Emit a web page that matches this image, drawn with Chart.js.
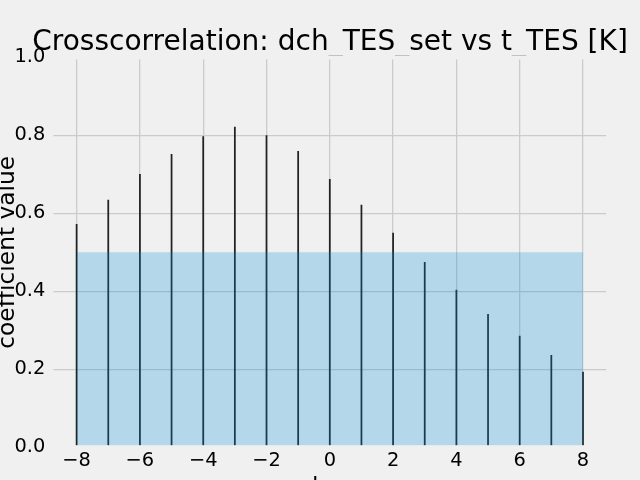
<!DOCTYPE html>
<html>
<head>
<meta charset="utf-8">
<script src="https://cdn.jsdelivr.net/npm/chart.js@4.4.1/dist/chart.umd.min.js"></script>
<style>
  html, body { margin: 0; padding: 0; background: #f0f0f0; }
  #wrap { width: 640px; height: 480px; }
</style>
</head>
<body>
<div id="wrap"><canvas id="c" width="640" height="480"></canvas></div>
<script>
// ---- data ----
const lags = [-8, -7, -6, -5, -4, -3, -2, -1, 0, 1, 2, 3, 4, 5, 6, 7, 8];
const coefficients = [0.572, 0.634, 0.700, 0.751, 0.797, 0.821, 0.799, 0.759, 0.687,
                      0.621, 0.549, 0.474, 0.403, 0.341, 0.285, 0.236, 0.193];
const threshold = 0.5;
const yTicks = [0.0, 0.2, 0.4, 0.6, 0.8, 1.0];
const xTicks = [-8, -6, -4, -2, 0, 2, 4, 6, 8];
const titleText = 'Crosscorrelation: dch_TES_set vs t_TES [K]';
const xLabel = 'lag';
const yLabel = 'coefficient value';

const stemPoints = lags.map((l, i) => ({ x: l, y: coefficients[i] }));
const shadePoints = [
  { x: lags[0], y: threshold },
  { x: lags[lags.length - 1], y: threshold }
];

const FONT = 'DejaVu Sans';

// no ligatures (like matplotlib), keep kerning
const textPlugin = {
  id: 'noLigatures',
  beforeDraw(chart) {
    try { chart.ctx.letterSpacing = '0.01px'; } catch (e) {}
  }
};

// spines drawn in background colour (fivethirtyeight style)
const spinePlugin = {
  id: 'spines',
  afterDatasetsDraw(chart) {
    const { ctx, chartArea: a } = chart;
    ctx.save();
    ctx.strokeStyle = '#f0f0f0';
    ctx.lineWidth = 4.2;
    ctx.strokeRect(a.left, a.top, a.right - a.left, a.bottom - a.top);
    ctx.restore();
  }
};

new Chart(document.getElementById('c'), {
  type: 'bar',
  data: {
    datasets: [
      {
        type: 'line',
        data: shadePoints,
        fill: 'origin',
        backgroundColor: 'rgba(0,143,213,0.25)',
        borderWidth: 0,
        pointRadius: 0,
        tension: 0
      },
      {
        type: 'bar',
        data: stemPoints,
        backgroundColor: '#222222',
        barThickness: 1.1,
        borderWidth: 0
      }
    ]
  },
  options: {
    responsive: false,
    animation: false,
    devicePixelRatio: 1,
    events: [],
    layout: { padding: { left: 0, right: -20, top: 0, bottom: 0 } },
    plugins: {
      legend: { display: false },
      tooltip: { enabled: false },
      title: {
        display: true,
        text: titleText,
        color: '#000',
        font: { family: FONT, size: 28, weight: 'normal', lineHeight: 1.2 },
        padding: { top: 26, bottom: -2.3 }
      }
    },
    scales: {
      x: {
        type: 'linear',
        min: -8.8,
        max: 8.8,
        offset: false,
        afterBuildTicks(scale) { scale.ticks = xTicks.map(v => ({ value: v })); },
        afterFit(scale) { scale.height = 32.7; },
        ticks: {
          includeBounds: false,
          color: '#000',
          padding: 2.5,
          maxRotation: 0,
          font: { family: FONT, size: 19.4 },
          callback: v => String(v).replace('-', '\u2212')
        },
        grid: { color: '#cbcbcb', lineWidth: 1.3, drawTicks: false, offset: false },
        border: { display: false },
        title: {
          display: true,
          text: xLabel,
          color: '#000',
          font: { family: FONT, size: 23.3, lineHeight: 1 },
          padding: { top: 0, bottom: -20 }
        }
      },
      y: {
        type: 'linear',
        position: 'left',
        min: 0,
        max: 1,
        afterBuildTicks(scale) { scale.ticks = yTicks.map(v => ({ value: v })); },
        afterFit(scale) { scale.width = 51.3; },
        ticks: {
          color: '#000',
          padding: 6,
          font: { family: FONT, size: 19.4 },
          callback: v => Number(v).toFixed(1)
        },
        grid: { color: '#cbcbcb', lineWidth: 1.3, drawTicks: false },
        border: { display: false },
        title: {
          display: true,
          text: yLabel,
          color: '#000',
          font: { family: FONT, size: 23.3, lineHeight: 1 },
          padding: { top: -4.15, bottom: 0 }
        }
      },
      yR: {
        type: 'linear',
        position: 'right',
        display: true,
        afterFit(scale) { scale.width = 51.7; },
        ticks: { display: false },
        grid: { display: false, drawTicks: false },
        border: { display: false }
      }
    }
  },
  plugins: [textPlugin, spinePlugin]
});
</script>
</body>
</html>
